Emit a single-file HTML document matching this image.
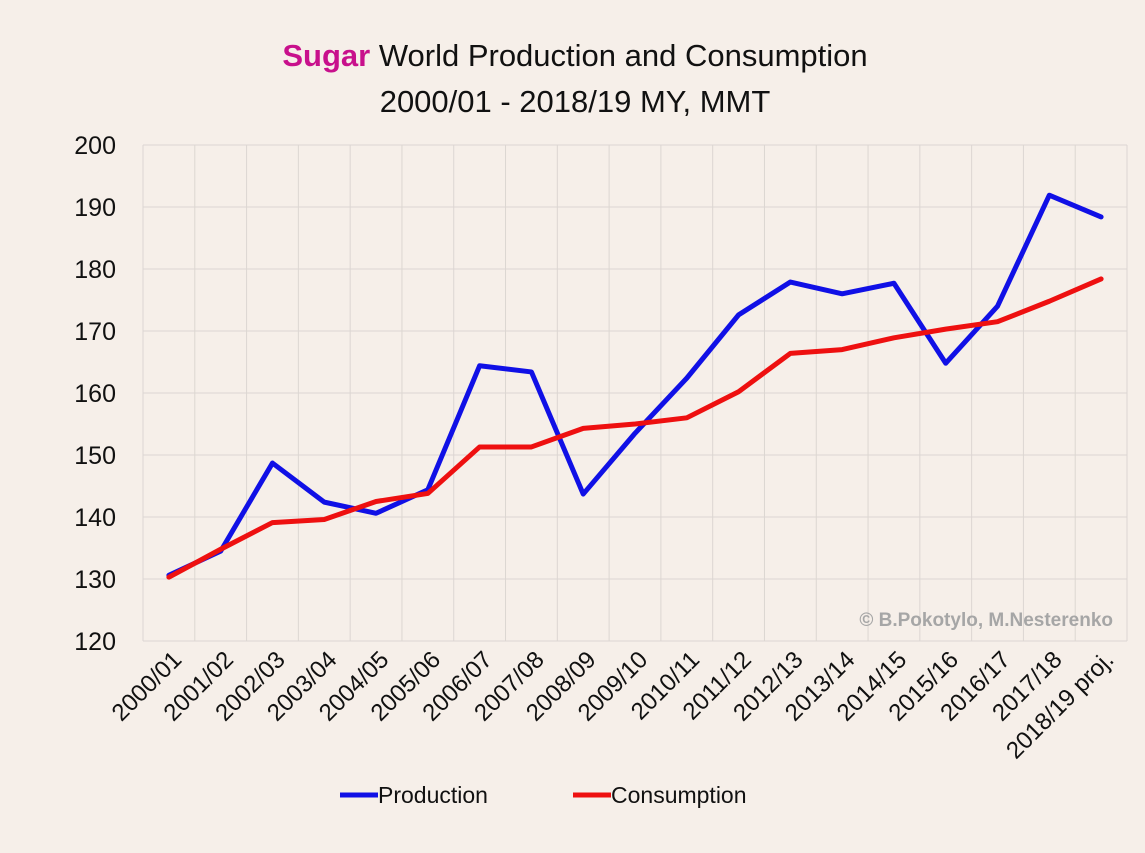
<!DOCTYPE html>
<html><head><meta charset="utf-8"><style>
body{margin:0;background:#f6efe9;}
svg{display:block;font-family:"Liberation Sans",sans-serif;}
</style></head><body>
<svg id="chart" width="1145" height="853">
<rect width="1145" height="853" fill="#f6efe9"/>
<text x="575" y="66" text-anchor="middle" font-size="31" fill="#111"><tspan fill="#c8108c" font-weight="bold">Sugar</tspan> World Production and Consumption</text>
<text x="575" y="112" text-anchor="middle" font-size="31" fill="#111">2000/01 - 2018/19 MY, MMT</text>
<g id="grid"></g><g id="ylab"></g><g id="xlab"></g><g id="lines"></g>
<text x="1113" y="626" text-anchor="end" font-size="19" font-weight="bold" fill="#a6a6a6">© B.Pokotylo, M.Nesterenko</text>
<line x1="340" y1="795" x2="378" y2="795" stroke="#1010e6" stroke-width="5"/>
<text x="378" y="803" font-size="23" fill="#111">Production</text>
<line x1="573" y1="795" x2="611" y2="795" stroke="#ee1010" stroke-width="5"/>
<text x="611" y="803" font-size="23" fill="#111">Consumption</text>
</svg>
<script>
const categories=["2000/01","2001/02","2002/03","2003/04","2004/05","2005/06","2006/07","2007/08","2008/09","2009/10","2010/11","2011/12","2012/13","2013/14","2014/15","2015/16","2016/17","2017/18","2018/19 proj."];
const production=[130.6,134.5,148.7,142.4,140.6,144.4,164.4,163.4,143.7,153.5,162.4,172.6,177.9,176,177.7,164.8,174,191.9,188.4];
const consumption=[130.3,134.8,139.1,139.6,142.5,143.8,151.3,151.3,154.3,155,156,160.2,166.4,167,168.9,170.3,171.5,174.8,178.4];
const yTicks=[120,130,140,150,160,170,180,190,200];
const NS="http://www.w3.org/2000/svg";
const L=143,R=1127,T=145,B=641,yMin=120,yMax=200;
const step=(R-L)/categories.length;
function xs(i){return L+step*(i+0.5);}
function ys(v){return B-(v-yMin)/(yMax-yMin)*(B-T);}
function mk(tag,parent,attrs){const e=document.createElementNS(NS,tag);for(const k in attrs)e.setAttribute(k,attrs[k]);document.getElementById(parent).appendChild(e);return e;}
yTicks.forEach(v=>{
 const g=mk('line','grid',{x1:L,x2:R,y1:ys(v),y2:ys(v),stroke:'#dcd6d2','stroke-width':1});
 
 
 const t=mk('text','ylab',{x:116,y:ys(v)+9,'text-anchor':'end','font-size':25,fill:'#111'});
 t.textContent=v;
 
 
});
for(let i=0;i<=categories.length;i++){
 const g=mk('line','grid',{x1:L+step*i,x2:L+step*i,y1:T,y2:B,stroke:'#dcd6d2','stroke-width':1});
 
 
}
categories.forEach((c,i)=>{
 const x=xs(i)+14,y=B+20;
 const t=mk('text','xlab',{x:x,y:y,'text-anchor':'end','font-size':24,fill:'#111',transform:`rotate(-45 ${x} ${y})`});
 t.textContent=c;
 
 
});
function line(data,color,name){
 const p=mk('polyline','lines',{points:data.map((v,i)=>xs(i)+','+ys(v)).join(' '),fill:'none',stroke:color,'stroke-width':5,'stroke-linejoin':'round','stroke-linecap':'round'});
 
 
}
line(production,'#1010e6','production-line');
line(consumption,'#ee1010','consumption-line');
</script>
</body></html>
